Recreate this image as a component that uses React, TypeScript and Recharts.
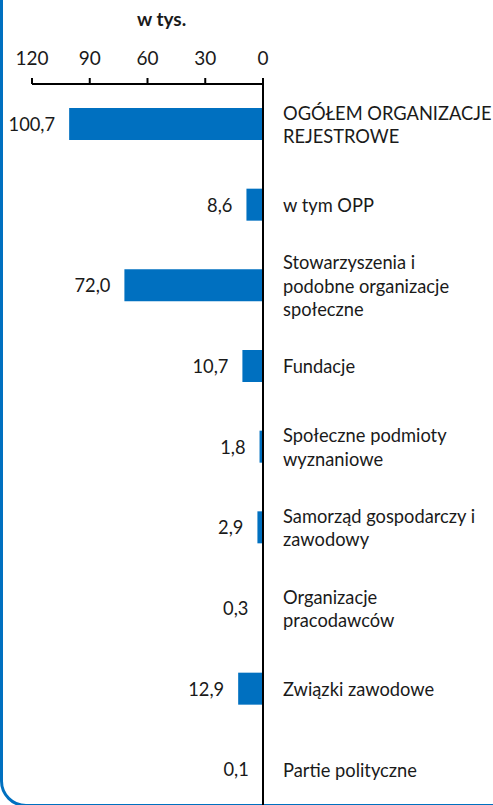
import React from "react";
import { BarChart, Bar, XAxis, YAxis, LabelList } from "recharts";

const categories = [
  "OGÓŁEM ORGANIZACJE\nREJESTROWE",
  "w tym OPP",
  "Stowarzyszenia i\npodobne organizacje\nspołeczne",
  "Fundacje",
  "Społeczne podmioty\nwyznaniowe",
  "Samorząd gospodarczy i\nzawodowy",
  "Organizacje\npracodawców",
  "Związki zawodowe",
  "Partie polityczne",
];
const values = [100.7, 8.6, 72.0, 10.7, 1.8, 2.9, 0.3, 12.9, 0.1];
const xTicks = [0, 30, 60, 90, 120];
const unitTitle = "w tys.";

const data = categories.map((c, i) => ({ name: c, value: values[i] }));

const FONT = "Lato, 'Noto Sans', sans-serif";
const BLUE = "#0070C0";
const TEXT = "#1a1a1a";
const FS = 18.3;

const CatTick = (props: any) => {
  const { x, y, payload } = props;
  const lines = String(payload.value).split("\n");
  const lh = 23.5;
  const start = y - ((lines.length - 1) * lh) / 2;
  return (
    <text x={x} y={start} fill={TEXT} fontSize={FS} fontFamily={FONT} dominantBaseline="central">
      {lines.map((l, i) => (
        <tspan key={i} x={x + 12} y={start + i * lh} dominantBaseline="central">
          {l}
        </tspan>
      ))}
    </text>
  );
};

const ValueLabel = (props: any) => {
  const { x, y, width, height, value } = props;
  const left = Math.min(x, x + width);
  return (
    <text
      x={left - 14}
      y={y + height / 2}
      textAnchor="end"
      dominantBaseline="central"
      fill={TEXT}
      fontSize={FS}
      fontFamily={FONT}
    >
      {Number(value).toFixed(1).replace(".", ",")}
    </text>
  );
};

export default function App() {
  return (
    <div style={{ position: "absolute", left: 0, top: 0, width: 493, height: 805, overflow: "hidden", background: "#fff" }}>
      <div
        style={{
          position: "absolute",
          left: 0,
          top: -40,
          width: 520,
          height: 847,
          boxSizing: "border-box",
          border: `3px solid ${BLUE}`,
          borderRadius: 26,
        }}
      />
      <div
        style={{
          position: "absolute",
          left: 137,
          top: 7,
          fontFamily: FONT,
          fontWeight: 700,
          fontSize: 19,
          color: TEXT,
        }}
      >
        {unitTitle}
      </div>
      <div style={{ position: "absolute", left: 0, top: 0 }}>
        <BarChart
          width={493}
          height={815}
          data={data}
          layout="vertical"
          margin={{ top: 34, right: 0, bottom: 5, left: 32 }}
          barCategoryGap={0}
        >
          <XAxis
            type="number"
            orientation="top"
            reversed
            domain={[0, 120]}
            ticks={xTicks}
            interval={0}
            height={50}
            tickSize={6}
            tickMargin={13}
            axisLine={{ stroke: "#000", strokeWidth: 2 }}
            tickLine={{ stroke: "#000", strokeWidth: 2 }}
            tick={{ fill: TEXT, fontSize: 19, fontFamily: FONT }}
          />
          <YAxis
            type="category"
            dataKey="name"
            orientation="right"
            width={230}
            interval={0}
            tickLine={false}
            axisLine={{ stroke: "#000", strokeWidth: 2 }}
            tick={<CatTick />}
          />
          <Bar dataKey="value" fill={BLUE} barSize={32} isAnimationActive={false}>
            <LabelList dataKey="value" content={<ValueLabel />} />
          </Bar>
        </BarChart>
      </div>
    </div>
  );
}
